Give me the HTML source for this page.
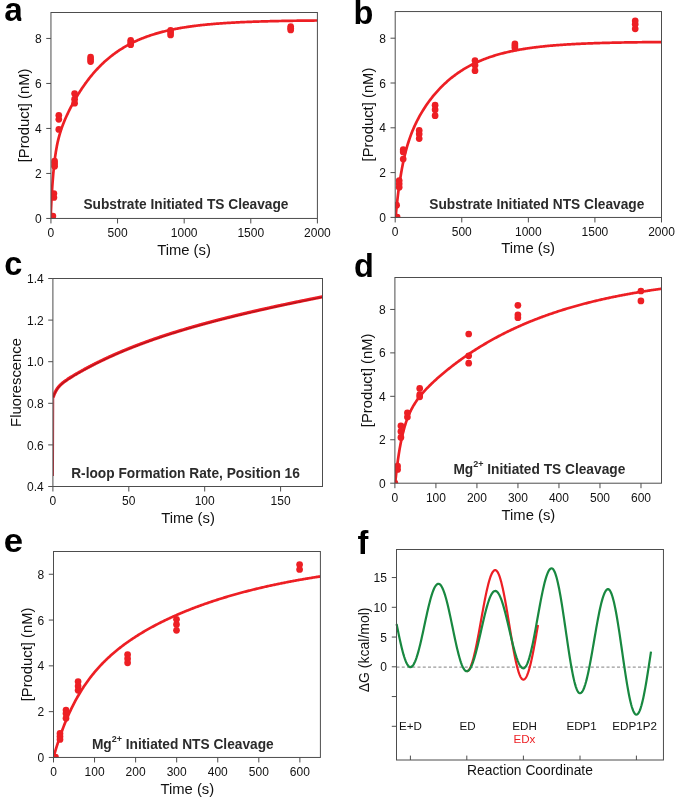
<!DOCTYPE html>
<html><head><meta charset="utf-8"><style>
html,body{margin:0;padding:0;background:#fff;}
svg{display:block;font-family:"Liberation Sans", sans-serif;will-change:transform;}
</style></head><body>
<svg width="685" height="807" viewBox="0 0 685 807">
<defs><clipPath id="clipa"><rect x="50.95" y="12.5" width="266.45" height="205.95"/></clipPath><clipPath id="lca"><rect x="0" y="0" width="21.3" height="60"/></clipPath><clipPath id="clipb"><rect x="395.2" y="11.55" width="266.3" height="205.89999999999998"/></clipPath><clipPath id="clipc"><rect x="52.9" y="278.5" width="269.6" height="208.0"/></clipPath><clipPath id="clipd"><rect x="394.9" y="277.5" width="266.6" height="205.7"/></clipPath><clipPath id="clipe"><rect x="53.5" y="551.5" width="266.9" height="205.95000000000005"/></clipPath><clipPath id="clipf"><rect x="396.5" y="549.5" width="266.95000000000005" height="210.5"/></clipPath></defs>
<rect width="685" height="807" fill="#fff"/>
<text x="41.75" y="223.05" font-size="12.0" text-anchor="end" font-weight="normal" fill="#111" >0</text>
<text x="41.75" y="178.05" font-size="12.0" text-anchor="end" font-weight="normal" fill="#111" >2</text>
<text x="41.75" y="133.05" font-size="12.0" text-anchor="end" font-weight="normal" fill="#111" >4</text>
<text x="41.75" y="88.05" font-size="12.0" text-anchor="end" font-weight="normal" fill="#111" >6</text>
<text x="41.75" y="43.05" font-size="12.0" text-anchor="end" font-weight="normal" fill="#111" >8</text>
<text x="50.95" y="236.85" font-size="12.0" text-anchor="middle" font-weight="normal" fill="#111" >0</text>
<text x="117.56" y="236.85" font-size="12.0" text-anchor="middle" font-weight="normal" fill="#111" >500</text>
<text x="184.18" y="236.85" font-size="12.0" text-anchor="middle" font-weight="normal" fill="#111" >1000</text>
<text x="250.79" y="236.85" font-size="12.0" text-anchor="middle" font-weight="normal" fill="#111" >1500</text>
<text x="317.40" y="236.85" font-size="12.0" text-anchor="middle" font-weight="normal" fill="#111" >2000</text>
<text x="184.00" y="255.00" font-size="14.8" text-anchor="middle" font-weight="normal" fill="#111" >Time (s)</text>
<text x="0" y="0" font-size="14.8" text-anchor="middle" fill="#111" transform="translate(28.5,115.47) rotate(-90)">[Product] (nM)</text>
<g clip-path="url(#lca)"><text x="0" y="0" font-size="33.3" font-weight="bold" fill="#000" transform="translate(4.2,20.7) scale(1.0,1)">a</text></g>
<text x="83.40" y="209.40" font-size="13.72" text-anchor="start" font-weight="bold" fill="#2b2b2b" >Substrate Initiated TS Cleavage</text>
<g clip-path="url(#clipa)">
<polyline points="50.60,218.40 51.49,199.58 52.39,184.99 53.28,173.56 54.17,164.48 55.06,157.15 55.96,151.14 56.85,146.12 57.74,141.83 58.64,138.10 59.53,134.81 60.42,131.83 61.32,129.11 62.21,126.59 63.10,124.22 63.99,121.98 64.89,119.84 65.78,117.79 66.67,115.80 67.57,113.88 68.46,112.02 69.35,110.20 70.25,108.43 71.14,106.70 72.03,105.01 72.92,103.36 73.82,101.74 74.71,100.15 75.60,98.60 76.50,97.08 77.39,95.59 78.28,94.13 79.18,92.69 80.07,91.29 80.96,89.91 81.85,88.56 82.75,87.24 83.64,85.94 84.53,84.66 85.43,83.41 86.32,82.19 87.21,80.99 88.11,79.81 89.00,78.66 89.89,77.52 90.78,76.41 91.68,75.32 92.57,74.25 93.46,73.21 94.36,72.18 95.25,71.17 96.14,70.19 97.03,69.22 97.93,68.27 98.82,67.34 99.71,66.42 100.61,65.53 101.50,64.65 102.39,63.79 103.29,62.94 104.18,62.11 105.07,61.30 105.96,60.50 106.86,59.72 107.75,58.95 108.64,58.20 109.54,57.47 110.43,56.74 111.32,56.04 112.22,55.34 113.11,54.66 114.00,53.99 114.89,53.33 115.79,52.69 116.68,52.06 117.57,51.44 118.47,50.84 119.36,50.24 120.25,49.66 121.15,49.09 122.04,48.53 122.93,47.98 123.82,47.44 124.72,46.91 125.61,46.39 126.50,45.88 127.40,45.38 128.29,44.90 129.18,44.42 130.07,43.95 130.97,43.48 131.86,43.03 132.75,42.59 133.65,42.15 134.54,41.73 135.43,41.31 136.33,40.90 137.22,40.50 138.11,40.10 139.00,39.72 139.90,39.34 140.79,38.96 141.68,38.60 142.58,38.24 143.47,37.89 144.36,37.55 145.26,37.21 146.15,36.88 147.04,36.55 147.93,36.24 148.83,35.92 149.72,35.62 150.61,35.32 151.51,35.02 152.40,34.74 153.29,34.45 154.19,34.17 155.08,33.90 155.97,33.64 156.86,33.37 157.76,33.12 158.65,32.87 159.54,32.62 160.44,32.38 161.33,32.14 162.22,31.91 163.12,31.68 164.01,31.45 164.90,31.24 165.79,31.02 166.69,30.81 167.58,30.60 168.47,30.40 169.37,30.20 170.26,30.00 171.15,29.81 172.04,29.63 172.94,29.44 173.83,29.26 174.72,29.08 175.62,28.91 176.51,28.74 177.40,28.57 178.30,28.41 179.19,28.25 180.08,28.09 180.97,27.94 181.87,27.78 182.76,27.64 183.65,27.49 184.55,27.35 185.44,27.21 186.33,27.07 187.23,26.94 188.12,26.80 189.01,26.67 189.90,26.55 190.80,26.42 191.69,26.30 192.58,26.18 193.48,26.06 194.37,25.95 195.26,25.83 196.16,25.72 197.05,25.61 197.94,25.51 198.83,25.40 199.73,25.30 200.62,25.20 201.51,25.10 202.41,25.01 203.30,24.91 204.19,24.82 205.08,24.73 205.98,24.64 206.87,24.55 207.76,24.46 208.66,24.38 209.55,24.30 210.44,24.22 211.34,24.14 212.23,24.06 213.12,23.98 214.01,23.91 214.91,23.83 215.80,23.76 216.69,23.69 217.59,23.62 218.48,23.55 219.37,23.49 220.27,23.42 221.16,23.36 222.05,23.29 222.94,23.23 223.84,23.17 224.73,23.11 225.62,23.05 226.52,23.00 227.41,22.94 228.30,22.89 229.20,22.83 230.09,22.78 230.98,22.73 231.87,22.68 232.77,22.63 233.66,22.58 234.55,22.53 235.45,22.48 236.34,22.44 237.23,22.39 238.13,22.35 239.02,22.31 239.91,22.26 240.80,22.22 241.70,22.18 242.59,22.14 243.48,22.10 244.38,22.06 245.27,22.02 246.16,21.99 247.05,21.95 247.95,21.92 248.84,21.88 249.73,21.85 250.63,21.81 251.52,21.78 252.41,21.75 253.31,21.72 254.20,21.68 255.09,21.65 255.98,21.62 256.88,21.59 257.77,21.57 258.66,21.54 259.56,21.51 260.45,21.48 261.34,21.46 262.24,21.43 263.13,21.40 264.02,21.38 264.91,21.35 265.81,21.33 266.70,21.31 267.59,21.28 268.49,21.26 269.38,21.24 270.27,21.22 271.17,21.19 272.06,21.17 272.95,21.15 273.84,21.13 274.74,21.11 275.63,21.09 276.52,21.07 277.42,21.06 278.31,21.04 279.20,21.02 280.09,21.00 280.99,20.98 281.88,20.97 282.77,20.95 283.67,20.93 284.56,20.92 285.45,20.90 286.35,20.89 287.24,20.87 288.13,20.86 289.02,20.84 289.92,20.83 290.81,20.81 291.70,20.80 292.60,20.79 293.49,20.77 294.38,20.76 295.28,20.75 296.17,20.74 297.06,20.72 297.95,20.71 298.85,20.70 299.74,20.69 300.63,20.68 301.53,20.67 302.42,20.66 303.31,20.64 304.21,20.63 305.10,20.62 305.99,20.61 306.88,20.60 307.78,20.59 308.67,20.59 309.56,20.58 310.46,20.57 311.35,20.56 312.24,20.55 313.14,20.54 314.03,20.53 314.92,20.52 315.81,20.52 316.71,20.51 317.60,20.50" fill="none" stroke="#ed1f24" stroke-width="2.7" stroke-linejoin="round"/>
<circle cx="52.90" cy="216.00" r="3.35" fill="#ed1f24"/>
<circle cx="53.90" cy="193.50" r="3.35" fill="#ed1f24"/>
<circle cx="53.90" cy="197.50" r="3.35" fill="#ed1f24"/>
<circle cx="54.60" cy="161.00" r="3.35" fill="#ed1f24"/>
<circle cx="54.60" cy="163.70" r="3.35" fill="#ed1f24"/>
<circle cx="54.60" cy="166.30" r="3.35" fill="#ed1f24"/>
<circle cx="58.80" cy="115.30" r="3.35" fill="#ed1f24"/>
<circle cx="58.80" cy="119.30" r="3.35" fill="#ed1f24"/>
<circle cx="58.80" cy="129.40" r="3.35" fill="#ed1f24"/>
<circle cx="74.60" cy="93.50" r="3.35" fill="#ed1f24"/>
<circle cx="74.60" cy="99.20" r="3.35" fill="#ed1f24"/>
<circle cx="74.60" cy="103.20" r="3.35" fill="#ed1f24"/>
<circle cx="90.60" cy="57.10" r="3.35" fill="#ed1f24"/>
<circle cx="90.60" cy="59.30" r="3.35" fill="#ed1f24"/>
<circle cx="90.60" cy="61.60" r="3.35" fill="#ed1f24"/>
<circle cx="130.70" cy="40.30" r="3.35" fill="#ed1f24"/>
<circle cx="130.70" cy="42.50" r="3.35" fill="#ed1f24"/>
<circle cx="130.70" cy="44.70" r="3.35" fill="#ed1f24"/>
<circle cx="170.60" cy="30.40" r="3.35" fill="#ed1f24"/>
<circle cx="170.60" cy="32.70" r="3.35" fill="#ed1f24"/>
<circle cx="170.60" cy="35.00" r="3.35" fill="#ed1f24"/>
<circle cx="290.70" cy="26.60" r="3.35" fill="#ed1f24"/>
<circle cx="290.70" cy="28.30" r="3.35" fill="#ed1f24"/>
<circle cx="290.70" cy="30.00" r="3.35" fill="#ed1f24"/>
</g>
<text x="386.00" y="222.00" font-size="12.0" text-anchor="end" font-weight="normal" fill="#111" >0</text>
<text x="386.00" y="177.20" font-size="12.0" text-anchor="end" font-weight="normal" fill="#111" >2</text>
<text x="386.00" y="132.40" font-size="12.0" text-anchor="end" font-weight="normal" fill="#111" >4</text>
<text x="386.00" y="87.60" font-size="12.0" text-anchor="end" font-weight="normal" fill="#111" >6</text>
<text x="386.00" y="42.80" font-size="12.0" text-anchor="end" font-weight="normal" fill="#111" >8</text>
<text x="395.20" y="235.85" font-size="12.0" text-anchor="middle" font-weight="normal" fill="#111" >0</text>
<text x="461.77" y="235.85" font-size="12.0" text-anchor="middle" font-weight="normal" fill="#111" >500</text>
<text x="528.35" y="235.85" font-size="12.0" text-anchor="middle" font-weight="normal" fill="#111" >1000</text>
<text x="594.92" y="235.85" font-size="12.0" text-anchor="middle" font-weight="normal" fill="#111" >1500</text>
<text x="661.50" y="235.85" font-size="12.0" text-anchor="middle" font-weight="normal" fill="#111" >2000</text>
<text x="528.20" y="253.40" font-size="14.8" text-anchor="middle" font-weight="normal" fill="#111" >Time (s)</text>
<text x="0" y="0" font-size="14.8" text-anchor="middle" fill="#111" transform="translate(372.9,114.50) rotate(-90)">[Product] (nM)</text>
<g><text x="0" y="0" font-size="32.5" font-weight="bold" fill="#000" transform="translate(353.6,23.6) scale(1.0,1)">b</text></g>
<text x="429.30" y="208.50" font-size="13.72" text-anchor="start" font-weight="bold" fill="#2b2b2b" >Substrate Initiated NTS Cleavage</text>
<g clip-path="url(#clipb)">
<polyline points="395.60,217.30 396.49,208.12 397.38,199.88 398.27,192.46 399.16,185.76 400.05,179.69 400.95,174.17 401.84,169.13 402.73,164.51 403.62,160.27 404.51,156.35 405.40,152.72 406.29,149.34 407.18,146.19 408.07,143.24 408.96,140.47 409.86,137.86 410.75,135.39 411.64,133.04 412.53,130.81 413.42,128.68 414.31,126.64 415.20,124.69 416.09,122.81 416.98,121.01 417.87,119.27 418.77,117.58 419.66,115.95 420.55,114.38 421.44,112.85 422.33,111.36 423.22,109.92 424.11,108.51 425.00,107.14 425.89,105.81 426.78,104.51 427.67,103.24 428.57,102.00 429.46,100.79 430.35,99.61 431.24,98.45 432.13,97.32 433.02,96.22 433.91,95.14 434.80,94.08 435.69,93.04 436.58,92.03 437.48,91.03 438.37,90.06 439.26,89.11 440.15,88.17 441.04,87.26 441.93,86.36 442.82,85.49 443.71,84.63 444.60,83.78 445.49,82.96 446.39,82.15 447.28,81.35 448.17,80.58 449.06,79.81 449.95,79.07 450.84,78.33 451.73,77.62 452.62,76.91 453.51,76.22 454.40,75.55 455.29,74.88 456.19,74.23 457.08,73.60 457.97,72.97 458.86,72.36 459.75,71.76 460.64,71.17 461.53,70.59 462.42,70.03 463.31,69.47 464.20,68.93 465.10,68.40 465.99,67.87 466.88,67.36 467.77,66.86 468.66,66.37 469.55,65.88 470.44,65.41 471.33,64.94 472.22,64.49 473.11,64.04 474.01,63.61 474.90,63.18 475.79,62.76 476.68,62.34 477.57,61.94 478.46,61.54 479.35,61.16 480.24,60.77 481.13,60.40 482.02,60.04 482.92,59.68 483.81,59.32 484.70,58.98 485.59,58.64 486.48,58.31 487.37,57.98 488.26,57.67 489.15,57.35 490.04,57.05 490.93,56.75 491.82,56.45 492.72,56.16 493.61,55.88 494.50,55.60 495.39,55.33 496.28,55.06 497.17,54.80 498.06,54.55 498.95,54.29 499.84,54.05 500.73,53.81 501.63,53.57 502.52,53.34 503.41,53.11 504.30,52.88 505.19,52.67 506.08,52.45 506.97,52.24 507.86,52.03 508.75,51.83 509.64,51.63 510.54,51.44 511.43,51.25 512.32,51.06 513.21,50.88 514.10,50.70 514.99,50.52 515.88,50.35 516.77,50.18 517.66,50.01 518.55,49.85 519.44,49.69 520.34,49.54 521.23,49.38 522.12,49.23 523.01,49.08 523.90,48.94 524.79,48.80 525.68,48.66 526.57,48.52 527.46,48.39 528.35,48.26 529.25,48.13 530.14,48.00 531.03,47.88 531.92,47.76 532.81,47.64 533.70,47.52 534.59,47.41 535.48,47.30 536.37,47.19 537.26,47.08 538.16,46.98 539.05,46.87 539.94,46.77 540.83,46.67 541.72,46.57 542.61,46.48 543.50,46.39 544.39,46.29 545.28,46.20 546.17,46.12 547.06,46.03 547.96,45.94 548.85,45.86 549.74,45.78 550.63,45.70 551.52,45.62 552.41,45.54 553.30,45.47 554.19,45.40 555.08,45.32 555.97,45.25 556.87,45.18 557.76,45.11 558.65,45.05 559.54,44.98 560.43,44.92 561.32,44.85 562.21,44.79 563.10,44.73 563.99,44.67 564.88,44.61 565.78,44.56 566.67,44.50 567.56,44.45 568.45,44.39 569.34,44.34 570.23,44.29 571.12,44.24 572.01,44.19 572.90,44.14 573.79,44.09 574.68,44.04 575.58,44.00 576.47,43.95 577.36,43.91 578.25,43.87 579.14,43.82 580.03,43.78 580.92,43.74 581.81,43.70 582.70,43.66 583.59,43.62 584.49,43.59 585.38,43.55 586.27,43.51 587.16,43.48 588.05,43.44 588.94,43.41 589.83,43.37 590.72,43.34 591.61,43.31 592.50,43.28 593.40,43.25 594.29,43.22 595.18,43.19 596.07,43.16 596.96,43.13 597.85,43.10 598.74,43.07 599.63,43.05 600.52,43.02 601.41,42.99 602.31,42.97 603.20,42.94 604.09,42.92 604.98,42.90 605.87,42.87 606.76,42.85 607.65,42.83 608.54,42.81 609.43,42.78 610.32,42.76 611.21,42.74 612.11,42.72 613.00,42.70 613.89,42.68 614.78,42.66 615.67,42.64 616.56,42.62 617.45,42.61 618.34,42.59 619.23,42.57 620.12,42.55 621.02,42.54 621.91,42.52 622.80,42.50 623.69,42.49 624.58,42.47 625.47,42.46 626.36,42.44 627.25,42.43 628.14,42.41 629.03,42.40 629.93,42.39 630.82,42.37 631.71,42.36 632.60,42.35 633.49,42.33 634.38,42.32 635.27,42.31 636.16,42.30 637.05,42.29 637.94,42.27 638.83,42.26 639.73,42.25 640.62,42.24 641.51,42.23 642.40,42.22 643.29,42.21 644.18,42.20 645.07,42.19 645.96,42.18 646.85,42.17 647.74,42.16 648.64,42.15 649.53,42.14 650.42,42.14 651.31,42.13 652.20,42.12 653.09,42.11 653.98,42.10 654.87,42.09 655.76,42.09 656.65,42.08 657.55,42.07 658.44,42.06 659.33,42.06 660.22,42.05 661.11,42.04 662.00,42.04" fill="none" stroke="#ed1f24" stroke-width="2.7" stroke-linejoin="round"/>
<circle cx="397.15" cy="217.20" r="3.35" fill="#ed1f24"/>
<circle cx="396.60" cy="205.20" r="3.35" fill="#ed1f24"/>
<circle cx="399.20" cy="180.60" r="3.35" fill="#ed1f24"/>
<circle cx="399.20" cy="183.80" r="3.35" fill="#ed1f24"/>
<circle cx="399.20" cy="187.20" r="3.35" fill="#ed1f24"/>
<circle cx="403.20" cy="149.70" r="3.35" fill="#ed1f24"/>
<circle cx="403.20" cy="152.00" r="3.35" fill="#ed1f24"/>
<circle cx="403.20" cy="159.00" r="3.35" fill="#ed1f24"/>
<circle cx="419.20" cy="130.40" r="3.35" fill="#ed1f24"/>
<circle cx="419.20" cy="134.10" r="3.35" fill="#ed1f24"/>
<circle cx="419.20" cy="138.60" r="3.35" fill="#ed1f24"/>
<circle cx="435.10" cy="105.20" r="3.35" fill="#ed1f24"/>
<circle cx="435.10" cy="109.70" r="3.35" fill="#ed1f24"/>
<circle cx="435.10" cy="115.70" r="3.35" fill="#ed1f24"/>
<circle cx="475.00" cy="60.60" r="3.35" fill="#ed1f24"/>
<circle cx="475.00" cy="65.20" r="3.35" fill="#ed1f24"/>
<circle cx="475.00" cy="70.70" r="3.35" fill="#ed1f24"/>
<circle cx="514.90" cy="43.90" r="3.35" fill="#ed1f24"/>
<circle cx="514.90" cy="46.00" r="3.35" fill="#ed1f24"/>
<circle cx="514.90" cy="48.10" r="3.35" fill="#ed1f24"/>
<circle cx="635.20" cy="20.80" r="3.35" fill="#ed1f24"/>
<circle cx="635.20" cy="24.20" r="3.35" fill="#ed1f24"/>
<circle cx="635.20" cy="28.80" r="3.35" fill="#ed1f24"/>
</g>
<text x="43.70" y="491.10" font-size="12.0" text-anchor="end" font-weight="normal" fill="#111" >0.4</text>
<text x="43.70" y="449.50" font-size="12.0" text-anchor="end" font-weight="normal" fill="#111" >0.6</text>
<text x="43.70" y="407.90" font-size="12.0" text-anchor="end" font-weight="normal" fill="#111" >0.8</text>
<text x="43.70" y="366.30" font-size="12.0" text-anchor="end" font-weight="normal" fill="#111" >1.0</text>
<text x="43.70" y="324.70" font-size="12.0" text-anchor="end" font-weight="normal" fill="#111" >1.2</text>
<text x="43.70" y="283.10" font-size="12.0" text-anchor="end" font-weight="normal" fill="#111" >1.4</text>
<text x="52.90" y="504.90" font-size="12.0" text-anchor="middle" font-weight="normal" fill="#111" >0</text>
<text x="128.80" y="504.90" font-size="12.0" text-anchor="middle" font-weight="normal" fill="#111" >50</text>
<text x="204.70" y="504.90" font-size="12.0" text-anchor="middle" font-weight="normal" fill="#111" >100</text>
<text x="280.60" y="504.90" font-size="12.0" text-anchor="middle" font-weight="normal" fill="#111" >150</text>
<text x="188.00" y="523.30" font-size="14.8" text-anchor="middle" font-weight="normal" fill="#111" >Time (s)</text>
<text x="0" y="0" font-size="14.8" text-anchor="middle" fill="#111" transform="translate(20.8,382.50) rotate(-90)">Fluorescence</text>
<g><text x="0" y="0" font-size="32.5" font-weight="bold" fill="#000" transform="translate(4.2,274.5) scale(1.0,1)">c</text></g>
<text x="71.20" y="477.60" font-size="13.72" text-anchor="start" font-weight="bold" fill="#2b2b2b" >R-loop Formation Rate, Position 16</text>
<g clip-path="url(#clipc)">
<polyline points="53.45,476 53.6,440 53.75,398" fill="none" stroke="#c42a36" stroke-width="1.0"/>
<polyline points="53.13,397.38 53.52,396.25 53.90,395.21 54.29,394.24 54.67,393.35 55.06,392.52 55.44,391.74 55.83,391.02 56.21,390.34 56.60,389.71 56.98,389.11 57.37,388.55 57.75,388.02 58.14,387.51 58.52,387.03 58.91,386.58 59.29,386.14 59.68,385.73 60.06,385.33 60.45,384.94 60.83,384.57 61.22,384.21 61.60,383.87 61.99,383.53 62.37,383.20 62.76,382.88 63.14,382.57 63.53,382.27 63.91,381.97 64.30,381.68 64.68,381.39 65.07,381.11 65.45,380.83 65.84,380.56 66.22,380.29 66.61,380.03 66.99,379.76 67.38,379.50 67.76,379.25 68.15,378.99 68.53,378.74 68.92,378.49 69.30,378.24 69.69,378.00 70.07,377.75 70.46,377.51 70.84,377.27 71.23,377.03 71.61,376.79 72.00,376.55 72.38,376.32 72.77,376.08 73.15,375.85 73.54,375.62 73.92,375.39 74.31,375.16 74.69,374.93 75.08,374.70 75.46,374.47 75.85,374.25 76.23,374.02 76.62,373.80 77.00,373.57 77.39,373.35 77.77,373.13 78.16,372.91 78.54,372.68 78.93,372.46 79.31,372.24 79.70,372.03 80.08,371.81 80.47,371.59 80.85,371.37 81.24,371.16 81.62,370.94 82.01,370.73 82.39,370.51 82.78,370.30 83.16,370.09 83.55,369.88 83.93,369.66 84.32,369.45 84.70,369.24 85.09,369.03 85.47,368.83 85.86,368.62 86.24,368.41 86.63,368.20 87.01,368.00 87.40,367.79 87.78,367.58 88.17,367.38 88.55,367.18 88.94,366.97 89.32,366.77 89.71,366.57 90.09,366.36 90.48,366.16 90.86,365.96 91.25,365.76 91.63,365.56 92.02,365.36 92.40,365.17 92.79,364.97 93.17,364.77 93.56,364.57 93.94,364.38 94.33,364.18 94.71,363.99 95.10,363.79 95.48,363.60 95.87,363.40 96.25,363.21 96.64,363.02 97.02,362.83 97.41,362.63 97.79,362.44 98.18,362.25 98.56,362.06 98.95,361.87 99.33,361.68 99.72,361.50 100.10,361.31 100.49,361.12 100.87,360.93 101.26,360.75 101.64,360.56 102.03,360.38 102.41,360.19 102.80,360.01 103.18,359.82 103.57,359.64 103.95,359.46 104.34,359.27 104.72,359.09 105.11,358.91 105.49,358.73 105.88,358.55 106.26,358.37 106.65,358.19 107.03,358.01 107.42,357.83 107.80,357.65 108.19,357.48 108.57,357.30 108.96,357.12 109.34,356.95 109.73,356.77 110.11,356.59 110.50,356.42 110.88,356.25 111.27,356.07 111.65,355.90 112.04,355.72 112.42,355.55 112.81,355.38 113.19,355.21 113.58,355.04 113.96,354.87 114.35,354.70 114.73,354.53 115.12,354.36 115.50,354.19 115.89,354.02 116.27,353.85 116.66,353.68 117.04,353.51 117.43,353.35 117.81,353.18 118.20,353.01 118.58,352.85 118.97,352.68 119.35,352.52 119.74,352.35 120.12,352.19 120.51,352.03 120.89,351.86 121.28,351.70 121.66,351.54 122.05,351.37 122.43,351.21 122.82,351.05 123.20,350.89 123.59,350.73 123.97,350.57 124.36,350.41 124.74,350.25 125.13,350.09 125.51,349.93 125.90,349.78 126.28,349.62 126.67,349.46 127.05,349.30 127.44,349.15 127.82,348.99 128.21,348.83 128.59,348.68 128.98,348.52 129.36,348.37 129.75,348.21 130.13,348.06 130.52,347.91 130.90,347.75 131.29,347.60 131.67,347.45 132.06,347.30 132.44,347.14 132.83,346.99 133.21,346.84 133.60,346.69 133.98,346.54 134.37,346.39 134.75,346.24 135.14,346.09 135.52,345.94 135.91,345.79 136.29,345.64 136.68,345.50 137.06,345.35 137.45,345.20 137.83,345.05 138.22,344.91 138.60,344.76 138.99,344.62 139.37,344.47 139.76,344.32 140.14,344.18 140.53,344.03 140.91,343.89 141.30,343.75 141.68,343.60 142.07,343.46 142.45,343.32 142.84,343.17 143.22,343.03 143.61,342.89 143.99,342.75 144.38,342.61 144.76,342.46 145.15,342.32 145.53,342.18 145.92,342.04 146.30,341.90 146.69,341.76 147.07,341.62 147.46,341.49 147.84,341.35 148.23,341.21 148.61,341.07 149.00,340.93 149.38,340.80 149.77,340.66 150.15,340.52 150.54,340.38 150.92,340.25 151.31,340.11 151.69,339.98 152.08,339.84 152.46,339.71 152.85,339.57 153.23,339.44 153.62,339.30 154.00,339.17 154.39,339.03 154.77,338.90 155.16,338.77 155.54,338.64 155.93,338.50 156.31,338.37 156.70,338.24 157.08,338.11 157.47,337.98 157.85,337.84 158.24,337.71 158.62,337.58 159.01,337.45 159.39,337.32 159.78,337.19 160.16,337.06 160.55,336.93 160.93,336.81 161.32,336.68 161.70,336.55 162.09,336.42 162.47,336.29 162.86,336.16 163.24,336.04 163.63,335.91 164.01,335.78 164.40,335.66 164.78,335.53 165.17,335.40 165.55,335.28 165.94,335.15 166.32,335.03 166.71,334.90 167.09,334.78 167.48,334.65 167.86,334.53 168.25,334.40 168.63,334.28 169.02,334.16 169.40,334.03 169.79,333.91 170.17,333.79 170.56,333.66 170.94,333.54 171.33,333.42 171.71,333.30 172.10,333.17 172.48,333.05 172.87,332.93 173.25,332.81 173.64,332.69 174.02,332.57 174.41,332.45 174.79,332.33 175.18,332.21 175.56,332.09 175.95,331.97 176.33,331.85 176.72,331.73 177.10,331.61 177.49,331.49 177.87,331.37 178.26,331.26 178.64,331.14 179.03,331.02 179.41,330.90 179.80,330.79 180.18,330.67 180.57,330.55 180.95,330.44 181.34,330.32 181.72,330.20 182.11,330.09 182.49,329.97 182.88,329.86 183.26,329.74 183.65,329.63 184.03,329.51 184.42,329.40 184.80,329.28 185.19,329.17 185.57,329.05 185.96,328.94 186.34,328.82 186.73,328.71 187.11,328.60 187.50,328.48 187.88,328.37 188.27,328.26 188.65,328.15 189.04,328.03 189.42,327.92 189.81,327.81 190.19,327.70 190.58,327.59 190.96,327.47 191.35,327.36 191.73,327.25 192.12,327.14 192.50,327.03 192.89,326.92 193.27,326.81 193.66,326.70 194.04,326.59 194.43,326.48 194.81,326.37 195.20,326.26 195.58,326.15 195.97,326.04 196.35,325.94 196.74,325.83 197.12,325.72 197.51,325.61 197.89,325.50 198.28,325.39 198.66,325.29 199.05,325.18 199.43,325.07 199.82,324.96 200.20,324.86 200.59,324.75 200.97,324.64 201.36,324.54 201.74,324.43 202.13,324.32 202.51,324.22 202.90,324.11 203.28,324.01 203.67,323.90 204.05,323.80 204.44,323.69 204.82,323.59 205.21,323.48 205.59,323.38 205.98,323.27 206.36,323.17 206.75,323.06 207.13,322.96 207.52,322.86 207.90,322.75 208.29,322.65 208.67,322.55 209.06,322.44 209.44,322.34 209.83,322.24 210.21,322.13 210.60,322.03 210.98,321.93 211.37,321.83 211.75,321.72 212.14,321.62 212.52,321.52 212.91,321.42 213.29,321.32 213.68,321.22 214.06,321.11 214.45,321.01 214.83,320.91 215.22,320.81 215.60,320.71 215.99,320.61 216.37,320.51 216.76,320.41 217.14,320.31 217.53,320.21 217.91,320.11 218.30,320.01 218.68,319.91 219.07,319.81 219.45,319.71 219.84,319.61 220.22,319.51 220.61,319.42 220.99,319.32 221.38,319.22 221.76,319.12 222.15,319.02 222.53,318.92 222.92,318.83 223.30,318.73 223.69,318.63 224.07,318.53 224.46,318.44 224.84,318.34 225.23,318.24 225.61,318.14 226.00,318.05 226.38,317.95 226.77,317.85 227.15,317.76 227.54,317.66 227.92,317.57 228.31,317.47 228.69,317.37 229.08,317.28 229.46,317.18 229.85,317.09 230.23,316.99 230.62,316.90 231.00,316.80 231.39,316.71 231.77,316.61 232.16,316.52 232.54,316.42 232.93,316.33 233.31,316.23 233.70,316.14 234.08,316.04 234.47,315.95 234.85,315.86 235.24,315.76 235.62,315.67 236.01,315.57 236.39,315.48 236.78,315.39 237.16,315.29 237.55,315.20 237.93,315.11 238.32,315.01 238.70,314.92 239.09,314.83 239.47,314.74 239.86,314.64 240.24,314.55 240.63,314.46 241.01,314.37 241.40,314.28 241.78,314.18 242.17,314.09 242.55,314.00 242.94,313.91 243.32,313.82 243.71,313.73 244.09,313.63 244.48,313.54 244.86,313.45 245.25,313.36 245.63,313.27 246.02,313.18 246.40,313.09 246.79,313.00 247.17,312.91 247.56,312.82 247.94,312.73 248.33,312.64 248.71,312.55 249.10,312.46 249.48,312.37 249.87,312.28 250.25,312.19 250.64,312.10 251.02,312.01 251.41,311.92 251.79,311.83 252.18,311.74 252.56,311.65 252.95,311.56 253.33,311.48 253.72,311.39 254.10,311.30 254.49,311.21 254.87,311.12 255.26,311.03 255.64,310.95 256.03,310.86 256.41,310.77 256.80,310.68 257.18,310.59 257.57,310.51 257.95,310.42 258.34,310.33 258.72,310.24 259.11,310.16 259.49,310.07 259.88,309.98 260.26,309.89 260.65,309.81 261.03,309.72 261.42,309.63 261.80,309.55 262.19,309.46 262.57,309.37 262.96,309.29 263.34,309.20 263.73,309.12 264.11,309.03 264.50,308.94 264.88,308.86 265.27,308.77 265.65,308.69 266.04,308.60 266.42,308.51 266.81,308.43 267.19,308.34 267.58,308.26 267.96,308.17 268.35,308.09 268.73,308.00 269.12,307.92 269.50,307.83 269.89,307.75 270.27,307.66 270.66,307.58 271.04,307.49 271.43,307.41 271.81,307.32 272.20,307.24 272.58,307.16 272.97,307.07 273.35,306.99 273.74,306.90 274.12,306.82 274.51,306.74 274.89,306.65 275.28,306.57 275.66,306.48 276.05,306.40 276.43,306.32 276.82,306.23 277.20,306.15 277.59,306.07 277.97,305.98 278.36,305.90 278.74,305.82 279.13,305.73 279.51,305.65 279.90,305.57 280.28,305.49 280.67,305.40 281.05,305.32 281.44,305.24 281.82,305.16 282.21,305.07 282.59,304.99 282.98,304.91 283.36,304.83 283.75,304.74 284.13,304.66 284.52,304.58 284.90,304.50 285.29,304.42 285.67,304.33 286.06,304.25 286.44,304.17 286.83,304.09 287.21,304.01 287.60,303.93 287.98,303.85 288.37,303.76 288.75,303.68 289.14,303.60 289.52,303.52 289.91,303.44 290.29,303.36 290.68,303.28 291.06,303.20 291.45,303.12 291.83,303.04 292.22,302.95 292.60,302.87 292.99,302.79 293.37,302.71 293.76,302.63 294.14,302.55 294.53,302.47 294.91,302.39 295.30,302.31 295.68,302.23 296.07,302.15 296.45,302.07 296.84,301.99 297.22,301.91 297.61,301.83 297.99,301.75 298.38,301.67 298.76,301.59 299.15,301.51 299.53,301.43 299.92,301.36 300.30,301.28 300.69,301.20 301.07,301.12 301.46,301.04 301.84,300.96 302.23,300.88 302.61,300.80 303.00,300.72 303.38,300.64 303.77,300.57 304.15,300.49 304.54,300.41 304.92,300.33 305.31,300.25 305.69,300.17 306.08,300.09 306.46,300.02 306.85,299.94 307.23,299.86 307.62,299.78 308.00,299.70 308.39,299.62 308.77,299.55 309.16,299.47 309.54,299.39 309.93,299.31 310.31,299.23 310.70,299.16 311.08,299.08 311.47,299.00 311.85,298.92 312.24,298.85 312.62,298.77 313.01,298.69 313.39,298.61 313.78,298.54 314.16,298.46 314.55,298.38 314.93,298.30 315.32,298.23 315.70,298.15 316.09,298.07 316.47,298.00 316.86,297.92 317.24,297.84 317.63,297.77 318.01,297.69 318.40,297.61 318.78,297.54 319.17,297.46 319.55,297.38 319.94,297.31 320.32,297.23 320.71,297.15 321.09,297.08 321.48,297.00 321.86,296.92 322.25,296.85" fill="none" stroke="#ee1c25" stroke-width="3.3" stroke-linejoin="round"/>
<polyline points="53.13,397.80 53.52,396.67 53.90,395.62 54.29,394.66 54.67,393.76 55.06,392.93 55.44,392.16 55.83,391.43 56.21,390.76 56.60,390.12 56.98,389.53 57.37,388.96 57.75,388.43 58.14,387.93 58.52,387.45 58.91,386.99 59.29,386.56 59.68,386.14 60.06,385.74 60.45,385.36 60.83,384.99 61.22,384.63 61.60,384.28 61.99,383.95 62.37,383.62 62.76,383.30 63.14,382.99 63.53,382.68 63.91,382.39 64.30,382.10 64.68,381.81 65.07,381.53 65.45,381.25 65.84,380.98 66.22,380.71 66.61,380.44 66.99,380.18 67.38,379.92 67.76,379.66 68.15,379.41 68.53,379.16 68.92,378.91 69.30,378.66 69.69,378.41 70.07,378.17 70.46,377.93 70.84,377.68 71.23,377.45 71.61,377.21 72.00,376.97 72.38,376.73 72.77,376.50 73.15,376.27 73.54,376.03 73.92,375.80 74.31,375.57 74.69,375.34 75.08,375.12 75.46,374.89 75.85,374.66 76.23,374.44 76.62,374.21 77.00,373.99 77.39,373.76 77.77,373.54 78.16,373.32 78.54,373.10 78.93,372.88 79.31,372.66 79.70,372.44 80.08,372.22 80.47,372.01 80.85,371.79 81.24,371.57 81.62,371.36 82.01,371.14 82.39,370.93 82.78,370.72 83.16,370.50 83.55,370.29 83.93,370.08 84.32,369.87 84.70,369.66 85.09,369.45 85.47,369.24 85.86,369.03 86.24,368.83 86.63,368.62 87.01,368.41 87.40,368.21 87.78,368.00 88.17,367.80 88.55,367.59 88.94,367.39 89.32,367.18 89.71,366.98 90.09,366.78 90.48,366.58 90.86,366.38 91.25,366.18 91.63,365.98 92.02,365.78 92.40,365.58 92.79,365.38 93.17,365.19 93.56,364.99 93.94,364.79 94.33,364.60 94.71,364.40 95.10,364.21 95.48,364.01 95.87,363.82 96.25,363.63 96.64,363.43 97.02,363.24 97.41,363.05 97.79,362.86 98.18,362.67 98.56,362.48 98.95,362.29 99.33,362.10 99.72,361.91 100.10,361.72 100.49,361.54 100.87,361.35 101.26,361.16 101.64,360.98 102.03,360.79 102.41,360.61 102.80,360.42 103.18,360.24 103.57,360.06 103.95,359.87 104.34,359.69 104.72,359.51 105.11,359.33 105.49,359.15 105.88,358.96 106.26,358.78 106.65,358.61 107.03,358.43 107.42,358.25 107.80,358.07 108.19,357.89 108.57,357.71 108.96,357.54 109.34,357.36 109.73,357.19 110.11,357.01 110.50,356.84 110.88,356.66 111.27,356.49 111.65,356.31 112.04,356.14 112.42,355.97 112.81,355.80 113.19,355.62 113.58,355.45 113.96,355.28 114.35,355.11 114.73,354.94 115.12,354.77 115.50,354.60 115.89,354.43 116.27,354.26 116.66,354.10 117.04,353.93 117.43,353.76 117.81,353.60 118.20,353.43 118.58,353.26 118.97,353.10 119.35,352.93 119.74,352.77 120.12,352.60 120.51,352.44 120.89,352.28 121.28,352.11 121.66,351.95 122.05,351.79 122.43,351.63 122.82,351.47 123.20,351.31 123.59,351.15 123.97,350.99 124.36,350.83 124.74,350.67 125.13,350.51 125.51,350.35 125.90,350.19 126.28,350.03 126.67,349.88 127.05,349.72 127.44,349.56 127.82,349.41 128.21,349.25 128.59,349.09 128.98,348.94 129.36,348.78 129.75,348.63 130.13,348.48 130.52,348.32 130.90,348.17 131.29,348.02 131.67,347.86 132.06,347.71 132.44,347.56 132.83,347.41 133.21,347.26 133.60,347.11 133.98,346.95 134.37,346.80 134.75,346.66 135.14,346.51 135.52,346.36 135.91,346.21 136.29,346.06 136.68,345.91 137.06,345.76 137.45,345.62 137.83,345.47 138.22,345.32 138.60,345.18 138.99,345.03 139.37,344.88 139.76,344.74 140.14,344.59 140.53,344.45 140.91,344.31 141.30,344.16 141.68,344.02 142.07,343.87 142.45,343.73 142.84,343.59 143.22,343.45 143.61,343.30 143.99,343.16 144.38,343.02 144.76,342.88 145.15,342.74 145.53,342.60 145.92,342.46 146.30,342.32 146.69,342.18 147.07,342.04 147.46,341.90 147.84,341.76 148.23,341.62 148.61,341.49 149.00,341.35 149.38,341.21 149.77,341.07 150.15,340.94 150.54,340.80 150.92,340.66 151.31,340.53 151.69,340.39 152.08,340.26 152.46,340.12 152.85,339.99 153.23,339.85 153.62,339.72 154.00,339.58 154.39,339.45 154.77,339.32 155.16,339.18 155.54,339.05 155.93,338.92 156.31,338.79 156.70,338.65 157.08,338.52 157.47,338.39 157.85,338.26 158.24,338.13 158.62,338.00 159.01,337.87 159.39,337.74 159.78,337.61 160.16,337.48 160.55,337.35 160.93,337.22 161.32,337.09 161.70,336.96 162.09,336.84 162.47,336.71 162.86,336.58 163.24,336.45 163.63,336.32 164.01,336.20 164.40,336.07 164.78,335.94 165.17,335.82 165.55,335.69 165.94,335.57 166.32,335.44 166.71,335.32 167.09,335.19 167.48,335.07 167.86,334.94 168.25,334.82 168.63,334.69 169.02,334.57 169.40,334.45 169.79,334.32 170.17,334.20 170.56,334.08 170.94,333.96 171.33,333.83 171.71,333.71 172.10,333.59 172.48,333.47 172.87,333.35 173.25,333.23 173.64,333.10 174.02,332.98 174.41,332.86 174.79,332.74 175.18,332.62 175.56,332.50 175.95,332.38 176.33,332.27 176.72,332.15 177.10,332.03 177.49,331.91 177.87,331.79 178.26,331.67 178.64,331.55 179.03,331.44 179.41,331.32 179.80,331.20 180.18,331.08 180.57,330.97 180.95,330.85 181.34,330.73 181.72,330.62 182.11,330.50 182.49,330.39 182.88,330.27 183.26,330.16 183.65,330.04 184.03,329.93 184.42,329.81 184.80,329.70 185.19,329.58 185.57,329.47 185.96,329.35 186.34,329.24 186.73,329.13 187.11,329.01 187.50,328.90 187.88,328.79 188.27,328.67 188.65,328.56 189.04,328.45 189.42,328.34 189.81,328.23 190.19,328.11 190.58,328.00 190.96,327.89 191.35,327.78 191.73,327.67 192.12,327.56 192.50,327.45 192.89,327.34 193.27,327.23 193.66,327.12 194.04,327.01 194.43,326.90 194.81,326.79 195.20,326.68 195.58,326.57 195.97,326.46 196.35,326.35 196.74,326.24 197.12,326.13 197.51,326.03 197.89,325.92 198.28,325.81 198.66,325.70 199.05,325.59 199.43,325.49 199.82,325.38 200.20,325.27 200.59,325.17 200.97,325.06 201.36,324.95 201.74,324.85 202.13,324.74 202.51,324.63 202.90,324.53 203.28,324.42 203.67,324.32 204.05,324.21 204.44,324.11 204.82,324.00 205.21,323.90 205.59,323.79 205.98,323.69 206.36,323.58 206.75,323.48 207.13,323.38 207.52,323.27 207.90,323.17 208.29,323.06 208.67,322.96 209.06,322.86 209.44,322.75 209.83,322.65 210.21,322.55 210.60,322.45 210.98,322.34 211.37,322.24 211.75,322.14 212.14,322.04 212.52,321.94 212.91,321.83 213.29,321.73 213.68,321.63 214.06,321.53 214.45,321.43 214.83,321.33 215.22,321.23 215.60,321.13 215.99,321.03 216.37,320.93 216.76,320.83 217.14,320.73 217.53,320.63 217.91,320.53 218.30,320.43 218.68,320.33 219.07,320.23 219.45,320.13 219.84,320.03 220.22,319.93 220.61,319.83 220.99,319.73 221.38,319.63 221.76,319.54 222.15,319.44 222.53,319.34 222.92,319.24 223.30,319.14 223.69,319.05 224.07,318.95 224.46,318.85 224.84,318.75 225.23,318.66 225.61,318.56 226.00,318.46 226.38,318.37 226.77,318.27 227.15,318.17 227.54,318.08 227.92,317.98 228.31,317.88 228.69,317.79 229.08,317.69 229.46,317.60 229.85,317.50 230.23,317.41 230.62,317.31 231.00,317.22 231.39,317.12 231.77,317.03 232.16,316.93 232.54,316.84 232.93,316.74 233.31,316.65 233.70,316.55 234.08,316.46 234.47,316.36 234.85,316.27 235.24,316.18 235.62,316.08 236.01,315.99 236.39,315.90 236.78,315.80 237.16,315.71 237.55,315.62 237.93,315.52 238.32,315.43 238.70,315.34 239.09,315.24 239.47,315.15 239.86,315.06 240.24,314.97 240.63,314.88 241.01,314.78 241.40,314.69 241.78,314.60 242.17,314.51 242.55,314.42 242.94,314.32 243.32,314.23 243.71,314.14 244.09,314.05 244.48,313.96 244.86,313.87 245.25,313.78 245.63,313.69 246.02,313.60 246.40,313.50 246.79,313.41 247.17,313.32 247.56,313.23 247.94,313.14 248.33,313.05 248.71,312.96 249.10,312.87 249.48,312.78 249.87,312.69 250.25,312.60 250.64,312.52 251.02,312.43 251.41,312.34 251.79,312.25 252.18,312.16 252.56,312.07 252.95,311.98 253.33,311.89 253.72,311.80 254.10,311.71 254.49,311.63 254.87,311.54 255.26,311.45 255.64,311.36 256.03,311.27 256.41,311.19 256.80,311.10 257.18,311.01 257.57,310.92 257.95,310.83 258.34,310.75 258.72,310.66 259.11,310.57 259.49,310.48 259.88,310.40 260.26,310.31 260.65,310.22 261.03,310.14 261.42,310.05 261.80,309.96 262.19,309.88 262.57,309.79 262.96,309.70 263.34,309.62 263.73,309.53 264.11,309.44 264.50,309.36 264.88,309.27 265.27,309.19 265.65,309.10 266.04,309.02 266.42,308.93 266.81,308.84 267.19,308.76 267.58,308.67 267.96,308.59 268.35,308.50 268.73,308.42 269.12,308.33 269.50,308.25 269.89,308.16 270.27,308.08 270.66,307.99 271.04,307.91 271.43,307.82 271.81,307.74 272.20,307.66 272.58,307.57 272.97,307.49 273.35,307.40 273.74,307.32 274.12,307.23 274.51,307.15 274.89,307.07 275.28,306.98 275.66,306.90 276.05,306.82 276.43,306.73 276.82,306.65 277.20,306.57 277.59,306.48 277.97,306.40 278.36,306.32 278.74,306.23 279.13,306.15 279.51,306.07 279.90,305.98 280.28,305.90 280.67,305.82 281.05,305.74 281.44,305.65 281.82,305.57 282.21,305.49 282.59,305.41 282.98,305.32 283.36,305.24 283.75,305.16 284.13,305.08 284.52,305.00 284.90,304.91 285.29,304.83 285.67,304.75 286.06,304.67 286.44,304.59 286.83,304.51 287.21,304.42 287.60,304.34 287.98,304.26 288.37,304.18 288.75,304.10 289.14,304.02 289.52,303.94 289.91,303.85 290.29,303.77 290.68,303.69 291.06,303.61 291.45,303.53 291.83,303.45 292.22,303.37 292.60,303.29 292.99,303.21 293.37,303.13 293.76,303.05 294.14,302.97 294.53,302.89 294.91,302.81 295.30,302.73 295.68,302.65 296.07,302.57 296.45,302.49 296.84,302.41 297.22,302.33 297.61,302.25 297.99,302.17 298.38,302.09 298.76,302.01 299.15,301.93 299.53,301.85 299.92,301.77 300.30,301.69 300.69,301.61 301.07,301.53 301.46,301.45 301.84,301.38 302.23,301.30 302.61,301.22 303.00,301.14 303.38,301.06 303.77,300.98 304.15,300.90 304.54,300.82 304.92,300.74 305.31,300.67 305.69,300.59 306.08,300.51 306.46,300.43 306.85,300.35 307.23,300.27 307.62,300.20 308.00,300.12 308.39,300.04 308.77,299.96 309.16,299.88 309.54,299.81 309.93,299.73 310.31,299.65 310.70,299.57 311.08,299.49 311.47,299.42 311.85,299.34 312.24,299.26 312.62,299.18 313.01,299.11 313.39,299.03 313.78,298.95 314.16,298.87 314.55,298.80 314.93,298.72 315.32,298.64 315.70,298.57 316.09,298.49 316.47,298.41 316.86,298.33 317.24,298.26 317.63,298.18 318.01,298.10 318.40,298.03 318.78,297.95 319.17,297.87 319.55,297.80 319.94,297.72 320.32,297.64 320.71,297.57 321.09,297.49 321.48,297.42 321.86,297.34 322.25,297.26" fill="none" stroke="#b0141b" stroke-width="1.1" stroke-linejoin="round"/>
</g>
<text x="385.70" y="487.80" font-size="12.0" text-anchor="end" font-weight="normal" fill="#111" >0</text>
<text x="385.70" y="444.36" font-size="12.0" text-anchor="end" font-weight="normal" fill="#111" >2</text>
<text x="385.70" y="400.92" font-size="12.0" text-anchor="end" font-weight="normal" fill="#111" >4</text>
<text x="385.70" y="357.48" font-size="12.0" text-anchor="end" font-weight="normal" fill="#111" >6</text>
<text x="385.70" y="314.04" font-size="12.0" text-anchor="end" font-weight="normal" fill="#111" >8</text>
<text x="394.90" y="501.60" font-size="12.0" text-anchor="middle" font-weight="normal" fill="#111" >0</text>
<text x="435.92" y="501.60" font-size="12.0" text-anchor="middle" font-weight="normal" fill="#111" >100</text>
<text x="476.93" y="501.60" font-size="12.0" text-anchor="middle" font-weight="normal" fill="#111" >200</text>
<text x="517.95" y="501.60" font-size="12.0" text-anchor="middle" font-weight="normal" fill="#111" >300</text>
<text x="558.96" y="501.60" font-size="12.0" text-anchor="middle" font-weight="normal" fill="#111" >400</text>
<text x="599.98" y="501.60" font-size="12.0" text-anchor="middle" font-weight="normal" fill="#111" >500</text>
<text x="640.99" y="501.60" font-size="12.0" text-anchor="middle" font-weight="normal" fill="#111" >600</text>
<text x="528.40" y="519.70" font-size="14.8" text-anchor="middle" font-weight="normal" fill="#111" >Time (s)</text>
<text x="0" y="0" font-size="14.8" text-anchor="middle" fill="#111" transform="translate(371.9,380.35) rotate(-90)">[Product] (nM)</text>
<g><text x="0" y="0" font-size="32.5" font-weight="bold" fill="#000" transform="translate(354.0,276.8) scale(1.0,1)">d</text></g>
<text x="453.40" y="474.30" font-size="13.72" text-anchor="start" font-weight="bold" fill="#2b2b2b" >Mg<tspan font-size="9" dy="-7.2">2+</tspan><tspan dy="7.2"> Initiated TS Cleavage</tspan></text>
<g clip-path="url(#clipd)">
<polyline points="395.20,483.00 396.09,474.61 396.98,467.11 397.87,460.38 398.76,454.34 399.65,448.90 400.55,443.99 401.44,439.55 402.33,435.53 403.22,431.87 404.11,428.53 405.00,425.48 405.89,422.68 406.78,420.10 407.67,417.72 408.56,415.51 409.46,413.45 410.35,411.53 411.24,409.73 412.13,408.04 413.02,406.45 413.91,404.93 414.80,403.49 415.69,402.12 416.58,400.81 417.47,399.55 418.37,398.34 419.26,397.17 420.15,396.04 421.04,394.95 421.93,393.88 422.82,392.85 423.71,391.84 424.60,390.85 425.49,389.88 426.38,388.93 427.27,388.00 428.17,387.09 429.06,386.19 429.95,385.30 430.84,384.43 431.73,383.57 432.62,382.72 433.51,381.88 434.40,381.06 435.29,380.24 436.18,379.43 437.08,378.62 437.97,377.83 438.86,377.04 439.75,376.27 440.64,375.50 441.53,374.73 442.42,373.97 443.31,373.22 444.20,372.48 445.09,371.74 445.99,371.01 446.88,370.28 447.77,369.56 448.66,368.85 449.55,368.14 450.44,367.44 451.33,366.74 452.22,366.05 453.11,365.36 454.00,364.68 454.89,364.00 455.79,363.33 456.68,362.66 457.57,362.00 458.46,361.34 459.35,360.69 460.24,360.05 461.13,359.40 462.02,358.77 462.91,358.13 463.80,357.51 464.70,356.88 465.59,356.26 466.48,355.65 467.37,355.04 468.26,354.43 469.15,353.83 470.04,353.24 470.93,352.64 471.82,352.06 472.71,351.47 473.61,350.89 474.50,350.32 475.39,349.75 476.28,349.18 477.17,348.62 478.06,348.06 478.95,347.50 479.84,346.95 480.73,346.41 481.62,345.86 482.52,345.33 483.41,344.79 484.30,344.26 485.19,343.73 486.08,343.21 486.97,342.69 487.86,342.17 488.75,341.66 489.64,341.16 490.53,340.65 491.42,340.15 492.32,339.65 493.21,339.16 494.10,338.67 494.99,338.18 495.88,337.70 496.77,337.22 497.66,336.75 498.55,336.27 499.44,335.80 500.33,335.34 501.23,334.88 502.12,334.42 503.01,333.96 503.90,333.51 504.79,333.06 505.68,332.62 506.57,332.17 507.46,331.73 508.35,331.30 509.24,330.87 510.14,330.44 511.03,330.01 511.92,329.59 512.81,329.17 513.70,328.75 514.59,328.33 515.48,327.92 516.37,327.52 517.26,327.11 518.15,326.71 519.04,326.31 519.94,325.91 520.83,325.52 521.72,325.13 522.61,324.74 523.50,324.35 524.39,323.97 525.28,323.59 526.17,323.22 527.06,322.84 527.95,322.47 528.85,322.10 529.74,321.74 530.63,321.37 531.52,321.01 532.41,320.65 533.30,320.30 534.19,319.95 535.08,319.60 535.97,319.25 536.86,318.90 537.76,318.56 538.65,318.22 539.54,317.88 540.43,317.55 541.32,317.21 542.21,316.88 543.10,316.56 543.99,316.23 544.88,315.91 545.77,315.59 546.66,315.27 547.56,314.95 548.45,314.64 549.34,314.33 550.23,314.02 551.12,313.71 552.01,313.40 552.90,313.10 553.79,312.80 554.68,312.50 555.57,312.21 556.47,311.91 557.36,311.62 558.25,311.33 559.14,311.04 560.03,310.76 560.92,310.47 561.81,310.19 562.70,309.91 563.59,309.64 564.48,309.36 565.38,309.09 566.27,308.81 567.16,308.55 568.05,308.28 568.94,308.01 569.83,307.75 570.72,307.49 571.61,307.23 572.50,306.97 573.39,306.71 574.28,306.46 575.18,306.21 576.07,305.96 576.96,305.71 577.85,305.46 578.74,305.22 579.63,304.97 580.52,304.73 581.41,304.49 582.30,304.25 583.19,304.02 584.09,303.78 584.98,303.55 585.87,303.32 586.76,303.09 587.65,302.86 588.54,302.64 589.43,302.41 590.32,302.19 591.21,301.97 592.10,301.75 593.00,301.53 593.89,301.31 594.78,301.10 595.67,300.88 596.56,300.67 597.45,300.46 598.34,300.25 599.23,300.05 600.12,299.84 601.01,299.64 601.91,299.43 602.80,299.23 603.69,299.03 604.58,298.83 605.47,298.64 606.36,298.44 607.25,298.25 608.14,298.06 609.03,297.86 609.92,297.67 610.81,297.49 611.71,297.30 612.60,297.11 613.49,296.93 614.38,296.75 615.27,296.56 616.16,296.38 617.05,296.20 617.94,296.03 618.83,295.85 619.72,295.67 620.62,295.50 621.51,295.33 622.40,295.16 623.29,294.99 624.18,294.82 625.07,294.65 625.96,294.48 626.85,294.32 627.74,294.15 628.63,293.99 629.53,293.83 630.42,293.67 631.31,293.51 632.20,293.35 633.09,293.19 633.98,293.04 634.87,292.88 635.76,292.73 636.65,292.58 637.54,292.43 638.43,292.28 639.33,292.13 640.22,291.98 641.11,291.83 642.00,291.68 642.89,291.54 643.78,291.40 644.67,291.25 645.56,291.11 646.45,290.97 647.34,290.83 648.24,290.69 649.13,290.55 650.02,290.42 650.91,290.28 651.80,290.15 652.69,290.01 653.58,289.88 654.47,289.75 655.36,289.62 656.25,289.49 657.15,289.36 658.04,289.23 658.93,289.10 659.82,288.98 660.71,288.85 661.60,288.73" fill="none" stroke="#ed1f24" stroke-width="2.7" stroke-linejoin="round"/>
<circle cx="394.90" cy="483.20" r="3.35" fill="#ed1f24"/>
<circle cx="397.60" cy="466.00" r="3.35" fill="#ed1f24"/>
<circle cx="397.60" cy="469.50" r="3.35" fill="#ed1f24"/>
<circle cx="400.90" cy="425.80" r="3.35" fill="#ed1f24"/>
<circle cx="400.90" cy="431.40" r="3.35" fill="#ed1f24"/>
<circle cx="400.90" cy="437.40" r="3.35" fill="#ed1f24"/>
<circle cx="407.40" cy="412.80" r="3.35" fill="#ed1f24"/>
<circle cx="407.40" cy="417.00" r="3.35" fill="#ed1f24"/>
<circle cx="419.70" cy="388.40" r="3.35" fill="#ed1f24"/>
<circle cx="419.70" cy="394.70" r="3.35" fill="#ed1f24"/>
<circle cx="419.70" cy="396.80" r="3.35" fill="#ed1f24"/>
<circle cx="468.70" cy="334.00" r="3.35" fill="#ed1f24"/>
<circle cx="468.70" cy="355.80" r="3.35" fill="#ed1f24"/>
<circle cx="468.70" cy="363.20" r="3.35" fill="#ed1f24"/>
<circle cx="517.90" cy="305.30" r="3.35" fill="#ed1f24"/>
<circle cx="517.90" cy="314.80" r="3.35" fill="#ed1f24"/>
<circle cx="517.90" cy="317.70" r="3.35" fill="#ed1f24"/>
<circle cx="640.90" cy="291.00" r="3.35" fill="#ed1f24"/>
<circle cx="640.90" cy="300.90" r="3.35" fill="#ed1f24"/>
</g>
<text x="44.30" y="762.05" font-size="12.0" text-anchor="end" font-weight="normal" fill="#111" >0</text>
<text x="44.30" y="716.25" font-size="12.0" text-anchor="end" font-weight="normal" fill="#111" >2</text>
<text x="44.30" y="670.45" font-size="12.0" text-anchor="end" font-weight="normal" fill="#111" >4</text>
<text x="44.30" y="624.65" font-size="12.0" text-anchor="end" font-weight="normal" fill="#111" >6</text>
<text x="44.30" y="578.85" font-size="12.0" text-anchor="end" font-weight="normal" fill="#111" >8</text>
<text x="53.50" y="775.85" font-size="12.0" text-anchor="middle" font-weight="normal" fill="#111" >0</text>
<text x="94.56" y="775.85" font-size="12.0" text-anchor="middle" font-weight="normal" fill="#111" >100</text>
<text x="135.62" y="775.85" font-size="12.0" text-anchor="middle" font-weight="normal" fill="#111" >200</text>
<text x="176.68" y="775.85" font-size="12.0" text-anchor="middle" font-weight="normal" fill="#111" >300</text>
<text x="217.75" y="775.85" font-size="12.0" text-anchor="middle" font-weight="normal" fill="#111" >400</text>
<text x="258.81" y="775.85" font-size="12.0" text-anchor="middle" font-weight="normal" fill="#111" >500</text>
<text x="299.87" y="775.85" font-size="12.0" text-anchor="middle" font-weight="normal" fill="#111" >600</text>
<text x="187.30" y="793.50" font-size="14.8" text-anchor="middle" font-weight="normal" fill="#111" >Time (s)</text>
<text x="0" y="0" font-size="14.8" text-anchor="middle" fill="#111" transform="translate(31.7,654.48) rotate(-90)">[Product] (nM)</text>
<g><text x="0" y="0" font-size="32.5" font-weight="bold" fill="#000" transform="translate(3.8,551.9) scale(1.07,1)">e</text></g>
<text x="91.90" y="748.70" font-size="13.72" text-anchor="start" font-weight="bold" fill="#2b2b2b" >Mg<tspan font-size="9" dy="-7.2">2+</tspan><tspan dy="7.2"> Initiated NTS Cleavage</tspan></text>
<g clip-path="url(#clipe)">
<polyline points="53.50,757.30 54.39,754.18 55.29,751.15 56.18,748.21 57.07,745.35 57.96,742.56 58.86,739.86 59.75,737.23 60.64,734.67 61.54,732.18 62.43,729.75 63.32,727.39 64.22,725.09 65.11,722.86 66.00,720.68 66.89,718.55 67.79,716.48 68.68,714.46 69.57,712.49 70.47,710.57 71.36,708.70 72.25,706.87 73.15,705.09 74.04,703.34 74.93,701.64 75.82,699.98 76.72,698.36 77.61,696.77 78.50,695.22 79.40,693.70 80.29,692.21 81.18,690.76 82.08,689.34 82.97,687.95 83.86,686.59 84.75,685.26 85.65,683.95 86.54,682.67 87.43,681.41 88.33,680.18 89.22,678.98 90.11,677.80 91.01,676.63 91.90,675.50 92.79,674.38 93.68,673.28 94.58,672.20 95.47,671.15 96.36,670.11 97.26,669.08 98.15,668.08 99.04,667.09 99.93,666.12 100.83,665.17 101.72,664.23 102.61,663.30 103.51,662.39 104.40,661.50 105.29,660.62 106.19,659.75 107.08,658.89 107.97,658.05 108.86,657.22 109.76,656.40 110.65,655.59 111.54,654.80 112.44,654.01 113.33,653.24 114.22,652.47 115.12,651.72 116.01,650.98 116.90,650.24 117.79,649.52 118.69,648.80 119.58,648.10 120.47,647.40 121.37,646.71 122.26,646.03 123.15,645.36 124.05,644.69 124.94,644.03 125.83,643.38 126.72,642.74 127.62,642.11 128.51,641.48 129.40,640.86 130.30,640.24 131.19,639.63 132.08,639.03 132.97,638.44 133.87,637.85 134.76,637.27 135.65,636.69 136.55,636.12 137.44,635.55 138.33,634.99 139.23,634.43 140.12,633.89 141.01,633.34 141.90,632.80 142.80,632.27 143.69,631.74 144.58,631.21 145.48,630.69 146.37,630.18 147.26,629.67 148.16,629.16 149.05,628.66 149.94,628.16 150.83,627.67 151.73,627.18 152.62,626.70 153.51,626.22 154.41,625.74 155.30,625.27 156.19,624.80 157.09,624.34 157.98,623.88 158.87,623.42 159.76,622.97 160.66,622.52 161.55,622.07 162.44,621.63 163.34,621.19 164.23,620.75 165.12,620.32 166.02,619.89 166.91,619.46 167.80,619.04 168.69,618.62 169.59,618.21 170.48,617.79 171.37,617.38 172.27,616.98 173.16,616.57 174.05,616.17 174.94,615.77 175.84,615.38 176.73,614.99 177.62,614.60 178.52,614.21 179.41,613.83 180.30,613.45 181.20,613.07 182.09,612.69 182.98,612.32 183.87,611.95 184.77,611.58 185.66,611.22 186.55,610.85 187.45,610.49 188.34,610.14 189.23,609.78 190.13,609.43 191.02,609.08 191.91,608.73 192.80,608.38 193.70,608.04 194.59,607.70 195.48,607.36 196.38,607.03 197.27,606.69 198.16,606.36 199.06,606.03 199.95,605.70 200.84,605.38 201.73,605.06 202.63,604.74 203.52,604.42 204.41,604.10 205.31,603.79 206.20,603.48 207.09,603.17 207.98,602.86 208.88,602.55 209.77,602.25 210.66,601.95 211.56,601.65 212.45,601.35 213.34,601.05 214.24,600.76 215.13,600.47 216.02,600.18 216.91,599.89 217.81,599.60 218.70,599.32 219.59,599.04 220.49,598.75 221.38,598.48 222.27,598.20 223.17,597.92 224.06,597.65 224.95,597.38 225.84,597.11 226.74,596.84 227.63,596.57 228.52,596.31 229.42,596.04 230.31,595.78 231.20,595.52 232.10,595.27 232.99,595.01 233.88,594.75 234.77,594.50 235.67,594.25 236.56,594.00 237.45,593.75 238.35,593.51 239.24,593.26 240.13,593.02 241.03,592.78 241.92,592.53 242.81,592.30 243.70,592.06 244.60,591.82 245.49,591.59 246.38,591.36 247.28,591.12 248.17,590.89 249.06,590.67 249.95,590.44 250.85,590.21 251.74,589.99 252.63,589.77 253.53,589.55 254.42,589.33 255.31,589.11 256.21,588.89 257.10,588.68 257.99,588.46 258.88,588.25 259.78,588.04 260.67,587.83 261.56,587.62 262.46,587.41 263.35,587.20 264.24,587.00 265.14,586.80 266.03,586.59 266.92,586.39 267.81,586.19 268.71,585.99 269.60,585.80 270.49,585.60 271.39,585.41 272.28,585.21 273.17,585.02 274.07,584.83 274.96,584.64 275.85,584.45 276.74,584.26 277.64,584.08 278.53,583.89 279.42,583.71 280.32,583.53 281.21,583.35 282.10,583.17 282.99,582.99 283.89,582.81 284.78,582.63 285.67,582.46 286.57,582.28 287.46,582.11 288.35,581.93 289.25,581.76 290.14,581.59 291.03,581.42 291.92,581.26 292.82,581.09 293.71,580.92 294.60,580.76 295.50,580.59 296.39,580.43 297.28,580.27 298.18,580.11 299.07,579.95 299.96,579.79 300.85,579.63 301.75,579.47 302.64,579.32 303.53,579.16 304.43,579.01 305.32,578.86 306.21,578.70 307.11,578.55 308.00,578.40 308.89,578.25 309.78,578.11 310.68,577.96 311.57,577.81 312.46,577.67 313.36,577.52 314.25,577.38 315.14,577.24 316.04,577.09 316.93,576.95 317.82,576.81 318.71,576.67 319.61,576.54 320.50,576.40" fill="none" stroke="#ed1f24" stroke-width="2.7" stroke-linejoin="round"/>
<circle cx="55.50" cy="757.00" r="3.35" fill="#ed1f24"/>
<circle cx="60.00" cy="733.40" r="3.35" fill="#ed1f24"/>
<circle cx="60.00" cy="736.40" r="3.35" fill="#ed1f24"/>
<circle cx="60.00" cy="739.40" r="3.35" fill="#ed1f24"/>
<circle cx="66.00" cy="710.00" r="3.35" fill="#ed1f24"/>
<circle cx="66.00" cy="713.40" r="3.35" fill="#ed1f24"/>
<circle cx="66.00" cy="718.20" r="3.35" fill="#ed1f24"/>
<circle cx="78.10" cy="681.60" r="3.35" fill="#ed1f24"/>
<circle cx="78.10" cy="686.00" r="3.35" fill="#ed1f24"/>
<circle cx="78.10" cy="690.30" r="3.35" fill="#ed1f24"/>
<circle cx="127.60" cy="654.60" r="3.35" fill="#ed1f24"/>
<circle cx="127.60" cy="658.70" r="3.35" fill="#ed1f24"/>
<circle cx="127.60" cy="662.80" r="3.35" fill="#ed1f24"/>
<circle cx="176.50" cy="619.30" r="3.35" fill="#ed1f24"/>
<circle cx="176.50" cy="624.40" r="3.35" fill="#ed1f24"/>
<circle cx="176.50" cy="630.30" r="3.35" fill="#ed1f24"/>
<circle cx="299.60" cy="564.60" r="3.35" fill="#ed1f24"/>
<circle cx="299.60" cy="569.50" r="3.35" fill="#ed1f24"/>
</g>
<text x="386.90" y="582.05" font-size="12.0" text-anchor="end" font-weight="normal" fill="#111" >15</text>
<text x="386.90" y="611.80" font-size="12.0" text-anchor="end" font-weight="normal" fill="#111" >10</text>
<text x="386.90" y="641.55" font-size="12.0" text-anchor="end" font-weight="normal" fill="#111" >5</text>
<text x="386.90" y="671.30" font-size="12.0" text-anchor="end" font-weight="normal" fill="#111" >0</text>
<line x1="396.5" y1="667.10" x2="663.45" y2="667.10" stroke="#9a9a9a" stroke-width="1.1" stroke-dasharray="3,2.25"/>
<polyline points="466.80,671.26 466.98,671.26 467.16,671.23 467.34,671.18 467.51,671.11 467.69,671.02 467.87,670.91 468.05,670.78 468.23,670.64 468.41,670.47 468.58,670.28 468.76,670.08 468.94,669.85 469.12,669.61 469.30,669.35 469.48,669.06 469.66,668.76 469.83,668.44 470.01,668.11 470.19,667.75 470.37,667.37 470.55,666.98 470.73,666.57 470.90,666.14 471.08,665.69 471.26,665.23 471.44,664.75 471.62,664.25 471.80,663.73 471.97,663.20 472.15,662.65 472.33,662.09 472.51,661.51 472.69,660.91 472.87,660.30 473.05,659.67 473.22,659.02 473.40,658.36 473.58,657.69 473.76,657.00 473.94,656.30 474.12,655.59 474.29,654.86 474.47,654.11 474.65,653.36 474.83,652.59 475.01,651.81 475.19,651.02 475.37,650.21 475.54,649.40 475.72,648.57 475.90,647.73 476.08,646.88 476.26,646.02 476.44,645.15 476.61,644.27 476.79,643.39 476.97,642.49 477.15,641.58 477.33,640.67 477.51,639.75 477.69,638.82 477.86,637.89 478.04,636.94 478.22,636.00 478.40,635.04 478.58,634.08 478.76,633.12 478.93,632.15 479.11,631.17 479.29,630.19 479.47,629.21 479.65,628.23 479.83,627.24 480.01,626.25 480.18,625.25 480.36,624.26 480.54,623.26 480.72,622.26 480.90,621.26 481.08,620.27 481.25,619.27 481.43,618.27 481.61,617.27 481.79,616.28 481.97,615.29 482.15,614.29 482.32,613.30 482.50,612.32 482.68,611.34 482.86,610.36 483.04,609.38 483.22,608.41 483.40,607.44 483.57,606.48 483.75,605.53 483.93,604.58 484.11,603.64 484.29,602.70 484.47,601.77 484.64,600.85 484.82,599.93 485.00,599.03 485.18,598.13 485.36,597.24 485.54,596.36 485.72,595.49 485.89,594.63 486.07,593.78 486.25,592.94 486.43,592.11 486.61,591.29 486.79,590.49 486.96,589.69 487.14,588.91 487.32,588.14 487.50,587.38 487.68,586.64 487.86,585.90 488.04,585.19 488.21,584.48 488.39,583.79 488.57,583.12 488.75,582.46 488.93,581.81 489.11,581.18 489.28,580.56 489.46,579.96 489.64,579.38 489.82,578.81 490.00,578.26 490.18,577.73 490.35,577.21 490.53,576.71 490.71,576.22 490.89,575.75 491.07,575.31 491.25,574.87 491.43,574.46 491.60,574.06 491.78,573.69 491.96,573.33 492.14,572.99 492.32,572.66 492.50,572.36 492.67,572.08 492.85,571.81 493.03,571.56 493.21,571.34 493.39,571.13 493.57,570.94 493.75,570.77 493.92,570.62 494.10,570.49 494.28,570.38 494.46,570.28 494.64,570.21 494.82,570.16 494.99,570.13 495.17,570.12 495.35,570.12 495.53,570.15 495.71,570.20 495.89,570.28 496.07,570.37 496.24,570.48 496.42,570.62 496.60,570.78 496.78,570.96 496.96,571.16 497.14,571.38 497.31,571.63 497.49,571.89 497.67,572.18 497.85,572.48 498.03,572.81 498.21,573.16 498.38,573.52 498.56,573.91 498.74,574.32 498.92,574.75 499.10,575.20 499.28,575.67 499.46,576.15 499.63,576.66 499.81,577.18 499.99,577.73 500.17,578.29 500.35,578.87 500.53,579.47 500.70,580.09 500.88,580.72 501.06,581.38 501.24,582.05 501.42,582.73 501.60,583.44 501.78,584.16 501.95,584.89 502.13,585.64 502.31,586.41 502.49,587.19 502.67,587.99 502.85,588.80 503.02,589.63 503.20,590.47 503.38,591.32 503.56,592.19 503.74,593.07 503.92,593.96 504.10,594.86 504.27,595.78 504.45,596.71 504.63,597.65 504.81,598.60 504.99,599.56 505.17,600.53 505.34,601.51 505.52,602.49 505.70,603.49 505.88,604.50 506.06,605.51 506.24,606.53 506.42,607.56 506.59,608.60 506.77,609.64 506.95,610.69 507.13,611.74 507.31,612.80 507.49,613.87 507.66,614.93 507.84,616.01 508.02,617.08 508.20,618.16 508.38,619.24 508.56,620.33 508.73,621.41 508.91,622.50 509.09,623.59 509.27,624.67 509.45,625.76 509.63,626.85 509.81,627.94 509.98,629.02 510.16,630.11 510.34,631.19 510.52,632.27 510.70,633.34 510.88,634.42 511.05,635.49 511.23,636.55 511.41,637.61 511.59,638.67 511.77,639.72 511.95,640.76 512.13,641.80 512.30,642.83 512.48,643.86 512.66,644.87 512.84,645.88 513.02,646.88 513.20,647.87 513.37,648.86 513.55,649.83 513.73,650.79 513.91,651.75 514.09,652.69 514.27,653.62 514.45,654.54 514.62,655.45 514.80,656.35 514.98,657.23 515.16,658.10 515.34,658.96 515.52,659.80 515.69,660.63 515.87,661.45 516.05,662.25 516.23,663.04 516.41,663.81 516.59,664.57 516.76,665.31 516.94,666.03 517.12,666.74 517.30,667.44 517.48,668.11 517.66,668.77 517.84,669.41 518.01,670.03 518.19,670.64 518.37,671.23 518.55,671.80 518.73,672.35 518.91,672.88 519.08,673.39 519.26,673.88 519.44,674.36 519.62,674.81 519.80,675.25 519.98,675.66 520.16,676.06 520.33,676.43 520.51,676.79 520.69,677.12 520.87,677.43 521.05,677.73 521.23,678.00 521.40,678.25 521.58,678.48 521.76,678.69 521.94,678.87 522.12,679.04 522.30,679.18 522.48,679.30 522.65,679.41 522.83,679.49 523.01,679.54 523.19,679.58 523.37,679.59 523.55,679.59 523.72,679.56 523.90,679.51 524.08,679.45 524.26,679.36 524.44,679.25 524.62,679.12 524.79,678.97 524.97,678.80 525.15,678.61 525.33,678.40 525.51,678.17 525.69,677.92 525.87,677.65 526.04,677.37 526.22,677.06 526.40,676.73 526.58,676.38 526.76,676.02 526.94,675.63 527.11,675.23 527.29,674.80 527.47,674.36 527.65,673.90 527.83,673.42 528.01,672.93 528.19,672.41 528.36,671.88 528.54,671.33 528.72,670.76 528.90,670.18 529.08,669.58 529.26,668.96 529.43,668.33 529.61,667.68 529.79,667.02 529.97,666.34 530.15,665.64 530.33,664.93 530.51,664.21 530.68,663.47 530.86,662.71 531.04,661.95 531.22,661.17 531.40,660.37 531.58,659.57 531.75,658.75 531.93,657.92 532.11,657.07 532.29,656.22 532.47,655.35 532.65,654.47 532.83,653.59 533.00,652.69 533.18,651.78 533.36,650.87 533.54,649.94 533.72,649.00 533.90,648.06 534.07,647.11 534.25,646.15 534.43,645.19 534.61,644.21 534.79,643.23 534.97,642.25 535.14,641.26 535.32,640.26 535.50,639.26 535.68,638.25 535.86,637.24 536.04,636.23 536.22,635.21 536.39,634.19 536.57,633.17 536.75,632.15 536.93,631.12 537.11,630.09 537.29,629.06 537.46,628.03 537.64,627.00 537.82,625.98 538.00,624.95" fill="none" stroke="#ed1f24" stroke-width="2.2"/>
<polyline points="396.60,623.97 397.24,627.13 397.88,630.27 398.51,633.36 399.15,636.41 399.79,639.38 400.43,642.27 401.06,645.06 401.70,647.73 402.34,650.28 402.98,652.69 403.61,654.94 404.25,657.03 404.89,658.95 405.53,660.68 406.16,662.22 406.80,663.56 407.44,664.69 408.08,665.61 408.71,666.32 409.35,666.80 409.99,667.05 410.63,667.09 411.26,666.90 411.90,666.51 412.54,665.91 413.18,665.09 413.82,664.08 414.45,662.87 415.09,661.46 415.73,659.88 416.37,658.11 417.00,656.18 417.64,654.10 418.28,651.86 418.92,649.49 419.55,647.00 420.19,644.40 420.83,641.70 421.47,638.91 422.10,636.06 422.74,633.16 423.38,630.21 424.02,627.24 424.65,624.26 425.29,621.29 425.93,618.34 426.57,615.42 427.20,612.56 427.84,609.76 428.48,607.04 429.12,604.42 429.75,601.90 430.39,599.51 431.03,597.25 431.67,595.13 432.31,593.16 432.94,591.37 433.58,589.74 434.22,588.30 434.86,587.05 435.49,586.00 436.13,585.14 436.77,584.50 437.41,584.06 438.04,583.83 438.68,583.82 439.32,584.03 439.96,584.45 440.59,585.08 441.23,585.93 441.87,586.98 442.51,588.24 443.14,589.69 443.78,591.32 444.42,593.14 445.06,595.13 445.69,597.28 446.33,599.58 446.97,602.02 447.61,604.59 448.25,607.27 448.88,610.05 449.52,612.92 450.16,615.86 450.80,618.86 451.43,621.90 452.07,624.97 452.71,628.06 453.35,631.14 453.98,634.20 454.62,637.23 455.26,640.21 455.90,643.13 456.53,645.97 457.17,648.72 457.81,651.36 458.45,653.89 459.08,656.28 459.72,658.53 460.36,660.63 461.00,662.56 461.63,664.32 462.27,665.89 462.91,667.28 463.55,668.46 464.18,669.45 464.82,670.22 465.46,670.79 466.10,671.13 466.74,671.26 467.37,671.18 468.01,670.91 468.65,670.43 469.29,669.76 469.92,668.89 470.56,667.84 471.20,666.60 471.84,665.19 472.47,663.61 473.11,661.87 473.75,659.97 474.39,657.93 475.02,655.76 475.66,653.46 476.30,651.06 476.94,648.55 477.57,645.96 478.21,643.29 478.85,640.57 479.49,637.79 480.12,634.98 480.76,632.16 481.40,629.33 482.04,626.50 482.68,623.70 483.31,620.94 483.95,618.23 484.59,615.58 485.23,613.01 485.86,610.52 486.50,608.14 487.14,605.88 487.78,603.74 488.41,601.74 489.05,599.88 489.69,598.18 490.33,596.64 490.96,595.27 491.60,594.08 492.24,593.08 492.88,592.26 493.51,591.64 494.15,591.21 494.79,590.98 495.43,590.95 496.06,591.12 496.70,591.48 497.34,592.03 497.98,592.78 498.62,593.71 499.25,594.82 499.89,596.10 500.53,597.55 501.17,599.17 501.80,600.94 502.44,602.85 503.08,604.90 503.72,607.08 504.35,609.36 504.99,611.75 505.63,614.23 506.27,616.79 506.90,619.41 507.54,622.09 508.18,624.80 508.82,627.53 509.45,630.28 510.09,633.02 510.73,635.75 511.37,638.44 512.00,641.09 512.64,643.68 513.28,646.21 513.92,648.64 514.55,650.98 515.19,653.22 515.83,655.33 516.47,657.32 517.11,659.16 517.74,660.86 518.38,662.40 519.02,663.77 519.66,664.97 520.29,666.00 520.93,666.84 521.57,667.49 522.21,667.95 522.84,668.22 523.48,668.29 524.12,668.13 524.76,667.72 525.39,667.06 526.03,666.16 526.67,665.01 527.31,663.63 527.94,662.02 528.58,660.19 529.22,658.15 529.86,655.91 530.49,653.47 531.13,650.87 531.77,648.09 532.41,645.17 533.05,642.11 533.68,638.93 534.32,635.65 534.96,632.28 535.60,628.83 536.23,625.34 536.87,621.81 537.51,618.26 538.15,614.72 538.78,611.19 539.42,607.70 540.06,604.26 540.70,600.89 541.33,597.61 541.97,594.43 542.61,591.37 543.25,588.45 543.88,585.68 544.52,583.08 545.16,580.65 545.80,578.42 546.43,576.38 547.07,574.55 547.71,572.95 548.35,571.58 548.98,570.44 549.62,569.54 550.26,568.89 550.90,568.48 551.54,568.33 552.17,568.46 552.81,568.89 553.45,569.63 554.09,570.68 554.72,572.02 555.36,573.66 556.00,575.58 556.64,577.78 557.27,580.24 557.91,582.95 558.55,585.90 559.19,589.07 559.82,592.45 560.46,596.02 561.10,599.76 561.74,603.66 562.37,607.69 563.01,611.84 563.65,616.08 564.29,620.40 564.92,624.77 565.56,629.16 566.20,633.57 566.84,637.96 567.48,642.32 568.11,646.61 568.75,650.83 569.39,654.96 570.03,658.96 570.66,662.82 571.30,666.52 571.94,670.04 572.58,673.37 573.21,676.49 573.85,679.38 574.49,682.02 575.13,684.42 575.76,686.55 576.40,688.40 577.04,689.96 577.68,691.23 578.31,692.20 578.95,692.86 579.59,693.22 580.23,693.26 580.86,693.04 581.50,692.54 582.14,691.79 582.78,690.77 583.42,689.50 584.05,687.99 584.69,686.24 585.33,684.25 585.97,682.05 586.60,679.63 587.24,677.02 587.88,674.23 588.52,671.27 589.15,668.15 589.79,664.90 590.43,661.53 591.07,658.05 591.70,654.48 592.34,650.85 592.98,647.17 593.62,643.46 594.25,639.73 594.89,636.02 595.53,632.33 596.17,628.68 596.80,625.10 597.44,621.61 598.08,618.21 598.72,614.93 599.35,611.79 599.99,608.79 600.63,605.96 601.27,603.31 601.91,600.86 602.54,598.61 603.18,596.58 603.82,594.78 604.46,593.22 605.09,591.90 605.73,590.83 606.37,590.02 607.01,589.48 607.64,589.20 608.28,589.19 608.92,589.48 609.56,590.08 610.19,590.99 610.83,592.21 611.47,593.72 612.11,595.52 612.74,597.60 613.38,599.95 614.02,602.56 614.66,605.42 615.29,608.51 615.93,611.81 616.57,615.31 617.21,619.00 617.85,622.84 618.48,626.84 619.12,630.95 619.76,635.18 620.40,639.48 621.03,643.85 621.67,648.25 622.31,652.68 622.95,657.10 623.58,661.50 624.22,665.84 624.86,670.12 625.50,674.31 626.13,678.39 626.77,682.34 627.41,686.13 628.05,689.75 628.68,693.19 629.32,696.42 629.96,699.43 630.60,702.20 631.23,704.73 631.87,706.99 632.51,708.98 633.15,710.68 633.78,712.09 634.42,713.20 635.06,714.01 635.70,714.51 636.34,714.70 636.97,714.58 637.61,714.16 638.25,713.44 638.89,712.42 639.52,711.12 640.16,709.53 640.80,707.66 641.44,705.53 642.07,703.15 642.71,700.52 643.35,697.66 643.99,694.58 644.62,691.31 645.26,687.85 645.90,684.23 646.54,680.45 647.17,676.55 647.81,672.54 648.45,668.44 649.09,664.28 649.72,660.06 650.36,655.82 651.00,651.57" fill="none" stroke="#188840" stroke-width="2.2"/>
<text x="410.50" y="730.20" font-size="11.6" text-anchor="middle" font-weight="normal" fill="#111" >E+D</text>
<text x="467.60" y="730.20" font-size="11.6" text-anchor="middle" font-weight="normal" fill="#111" >ED</text>
<text x="524.60" y="730.20" font-size="11.6" text-anchor="middle" font-weight="normal" fill="#111" >EDH</text>
<text x="524.40" y="742.60" font-size="11.6" text-anchor="middle" font-weight="normal" fill="#ed1f24" >EDx</text>
<text x="581.60" y="730.20" font-size="11.6" text-anchor="middle" font-weight="normal" fill="#111" >EDP1</text>
<text x="634.60" y="730.20" font-size="11.6" text-anchor="middle" font-weight="normal" fill="#111" >EDP1P2</text>
<text x="530.00" y="775.00" font-size="13.8" text-anchor="middle" font-weight="normal" fill="#111" >Reaction Coordinate</text>
<text x="0" y="0" font-size="14" text-anchor="middle" fill="#111" transform="translate(368.8,649.9) rotate(-90)">ΔG (kcal/mol)</text>
<text x="357.60" y="553.60" font-size="32.5" text-anchor="start" font-weight="bold" fill="#000" >f</text>
<rect x="50.95" y="12.5" width="266.45" height="205.95" fill="none" stroke="#4d4d4d" stroke-width="1"/>
<line x1="46.25" y1="218.45" x2="50.95" y2="218.45" stroke="#4d4d4d" stroke-width="1"/>
<line x1="46.25" y1="173.45" x2="50.95" y2="173.45" stroke="#4d4d4d" stroke-width="1"/>
<line x1="46.25" y1="128.45" x2="50.95" y2="128.45" stroke="#4d4d4d" stroke-width="1"/>
<line x1="46.25" y1="83.45" x2="50.95" y2="83.45" stroke="#4d4d4d" stroke-width="1"/>
<line x1="46.25" y1="38.45" x2="50.95" y2="38.45" stroke="#4d4d4d" stroke-width="1"/>
<line x1="50.95" y1="218.45" x2="50.95" y2="223.45" stroke="#4d4d4d" stroke-width="1"/>
<line x1="117.56" y1="218.45" x2="117.56" y2="223.45" stroke="#4d4d4d" stroke-width="1"/>
<line x1="184.18" y1="218.45" x2="184.18" y2="223.45" stroke="#4d4d4d" stroke-width="1"/>
<line x1="250.79" y1="218.45" x2="250.79" y2="223.45" stroke="#4d4d4d" stroke-width="1"/>
<line x1="317.40" y1="218.45" x2="317.40" y2="223.45" stroke="#4d4d4d" stroke-width="1"/>
<rect x="395.2" y="11.55" width="266.3" height="205.89999999999998" fill="none" stroke="#4d4d4d" stroke-width="1"/>
<line x1="390.5" y1="217.40" x2="395.2" y2="217.40" stroke="#4d4d4d" stroke-width="1"/>
<line x1="390.5" y1="172.60" x2="395.2" y2="172.60" stroke="#4d4d4d" stroke-width="1"/>
<line x1="390.5" y1="127.80" x2="395.2" y2="127.80" stroke="#4d4d4d" stroke-width="1"/>
<line x1="390.5" y1="83.00" x2="395.2" y2="83.00" stroke="#4d4d4d" stroke-width="1"/>
<line x1="390.5" y1="38.20" x2="395.2" y2="38.20" stroke="#4d4d4d" stroke-width="1"/>
<line x1="395.20" y1="217.45" x2="395.20" y2="222.45" stroke="#4d4d4d" stroke-width="1"/>
<line x1="461.77" y1="217.45" x2="461.77" y2="222.45" stroke="#4d4d4d" stroke-width="1"/>
<line x1="528.35" y1="217.45" x2="528.35" y2="222.45" stroke="#4d4d4d" stroke-width="1"/>
<line x1="594.92" y1="217.45" x2="594.92" y2="222.45" stroke="#4d4d4d" stroke-width="1"/>
<line x1="661.50" y1="217.45" x2="661.50" y2="222.45" stroke="#4d4d4d" stroke-width="1"/>
<rect x="52.9" y="278.5" width="269.6" height="208.0" fill="none" stroke="#4d4d4d" stroke-width="1"/>
<line x1="48.199999999999996" y1="486.50" x2="52.9" y2="486.50" stroke="#4d4d4d" stroke-width="1"/>
<line x1="48.199999999999996" y1="444.90" x2="52.9" y2="444.90" stroke="#4d4d4d" stroke-width="1"/>
<line x1="48.199999999999996" y1="403.30" x2="52.9" y2="403.30" stroke="#4d4d4d" stroke-width="1"/>
<line x1="48.199999999999996" y1="361.70" x2="52.9" y2="361.70" stroke="#4d4d4d" stroke-width="1"/>
<line x1="48.199999999999996" y1="320.10" x2="52.9" y2="320.10" stroke="#4d4d4d" stroke-width="1"/>
<line x1="48.199999999999996" y1="278.50" x2="52.9" y2="278.50" stroke="#4d4d4d" stroke-width="1"/>
<line x1="52.90" y1="486.5" x2="52.90" y2="491.5" stroke="#4d4d4d" stroke-width="1"/>
<line x1="128.80" y1="486.5" x2="128.80" y2="491.5" stroke="#4d4d4d" stroke-width="1"/>
<line x1="204.70" y1="486.5" x2="204.70" y2="491.5" stroke="#4d4d4d" stroke-width="1"/>
<line x1="280.60" y1="486.5" x2="280.60" y2="491.5" stroke="#4d4d4d" stroke-width="1"/>
<rect x="394.9" y="277.5" width="266.6" height="205.7" fill="none" stroke="#4d4d4d" stroke-width="1"/>
<line x1="390.2" y1="483.20" x2="394.9" y2="483.20" stroke="#4d4d4d" stroke-width="1"/>
<line x1="390.2" y1="439.76" x2="394.9" y2="439.76" stroke="#4d4d4d" stroke-width="1"/>
<line x1="390.2" y1="396.32" x2="394.9" y2="396.32" stroke="#4d4d4d" stroke-width="1"/>
<line x1="390.2" y1="352.88" x2="394.9" y2="352.88" stroke="#4d4d4d" stroke-width="1"/>
<line x1="390.2" y1="309.44" x2="394.9" y2="309.44" stroke="#4d4d4d" stroke-width="1"/>
<line x1="394.90" y1="483.2" x2="394.90" y2="488.2" stroke="#4d4d4d" stroke-width="1"/>
<line x1="435.92" y1="483.2" x2="435.92" y2="488.2" stroke="#4d4d4d" stroke-width="1"/>
<line x1="476.93" y1="483.2" x2="476.93" y2="488.2" stroke="#4d4d4d" stroke-width="1"/>
<line x1="517.95" y1="483.2" x2="517.95" y2="488.2" stroke="#4d4d4d" stroke-width="1"/>
<line x1="558.96" y1="483.2" x2="558.96" y2="488.2" stroke="#4d4d4d" stroke-width="1"/>
<line x1="599.98" y1="483.2" x2="599.98" y2="488.2" stroke="#4d4d4d" stroke-width="1"/>
<line x1="640.99" y1="483.2" x2="640.99" y2="488.2" stroke="#4d4d4d" stroke-width="1"/>
<rect x="53.5" y="551.5" width="266.9" height="205.95000000000005" fill="none" stroke="#4d4d4d" stroke-width="1"/>
<line x1="48.8" y1="757.45" x2="53.5" y2="757.45" stroke="#4d4d4d" stroke-width="1"/>
<line x1="48.8" y1="711.65" x2="53.5" y2="711.65" stroke="#4d4d4d" stroke-width="1"/>
<line x1="48.8" y1="665.85" x2="53.5" y2="665.85" stroke="#4d4d4d" stroke-width="1"/>
<line x1="48.8" y1="620.05" x2="53.5" y2="620.05" stroke="#4d4d4d" stroke-width="1"/>
<line x1="48.8" y1="574.25" x2="53.5" y2="574.25" stroke="#4d4d4d" stroke-width="1"/>
<line x1="53.50" y1="757.45" x2="53.50" y2="762.45" stroke="#4d4d4d" stroke-width="1"/>
<line x1="94.56" y1="757.45" x2="94.56" y2="762.45" stroke="#4d4d4d" stroke-width="1"/>
<line x1="135.62" y1="757.45" x2="135.62" y2="762.45" stroke="#4d4d4d" stroke-width="1"/>
<line x1="176.68" y1="757.45" x2="176.68" y2="762.45" stroke="#4d4d4d" stroke-width="1"/>
<line x1="217.75" y1="757.45" x2="217.75" y2="762.45" stroke="#4d4d4d" stroke-width="1"/>
<line x1="258.81" y1="757.45" x2="258.81" y2="762.45" stroke="#4d4d4d" stroke-width="1"/>
<line x1="299.87" y1="757.45" x2="299.87" y2="762.45" stroke="#4d4d4d" stroke-width="1"/>
<rect x="396.5" y="549.5" width="266.95000000000005" height="210.5" fill="none" stroke="#4d4d4d" stroke-width="1"/>
<line x1="391.8" y1="577.55" x2="396.5" y2="577.55" stroke="#4d4d4d" stroke-width="1"/>
<line x1="391.8" y1="607.30" x2="396.5" y2="607.30" stroke="#4d4d4d" stroke-width="1"/>
<line x1="391.8" y1="637.05" x2="396.5" y2="637.05" stroke="#4d4d4d" stroke-width="1"/>
<line x1="391.8" y1="666.80" x2="396.5" y2="666.80" stroke="#4d4d4d" stroke-width="1"/>
<line x1="391.8" y1="696.55" x2="396.5" y2="696.55" stroke="#4d4d4d" stroke-width="1"/>
<line x1="391.8" y1="726.30" x2="396.5" y2="726.30" stroke="#4d4d4d" stroke-width="1"/>
<line x1="410.4" y1="760.0" x2="410.4" y2="755.6" stroke="#4d4d4d" stroke-width="1"/>
<line x1="466.8" y1="760.0" x2="466.8" y2="755.6" stroke="#4d4d4d" stroke-width="1"/>
<line x1="523.4" y1="760.0" x2="523.4" y2="755.6" stroke="#4d4d4d" stroke-width="1"/>
<line x1="580.0" y1="760.0" x2="580.0" y2="755.6" stroke="#4d4d4d" stroke-width="1"/>
<line x1="636.4" y1="760.0" x2="636.4" y2="755.6" stroke="#4d4d4d" stroke-width="1"/>
</svg></body></html>
